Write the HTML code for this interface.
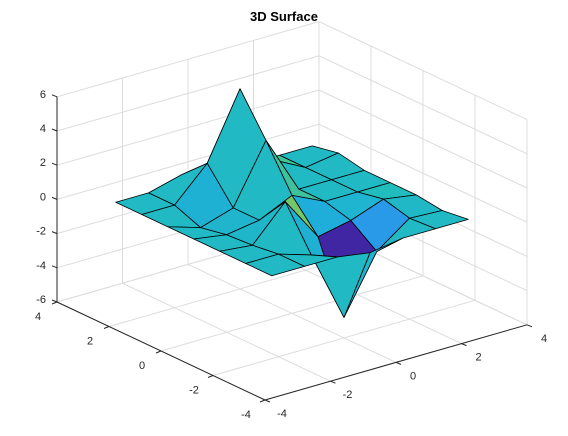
<!DOCTYPE html>
<html><head><meta charset="utf-8"><style>
html,body{margin:0;padding:0;background:#fff;}
svg{display:block;font-family:"Liberation Sans",sans-serif;}
</style></head><body>
<svg id="chart" width="568" height="436" viewBox="0 0 568 436" xmlns="http://www.w3.org/2000/svg">
<rect width="568" height="436" fill="#fff"/>
<text x="284" y="21" text-anchor="middle" font-size="13" font-weight="bold" fill="#000">3D Surface</text>
<g id="grid"></g><g id="surf"></g><g id="axes"></g>
</svg>
<script>
const xGrid = [-3,-2,-1,0,1,2,3];
const yGrid = [-3,-2,-1,0,1,2,3];
// rows by y (-3..3), columns by x (-3..3)
const zRowYm3 = [0,0,0,-0.3,0,0,0];
const zRowYm2 = [0,0,-0.6,-4.8,-1.5,-0.1,-0.2];
const zRowYm1 = [0,-0.2,1.8,-0.8,-0.4,0.3,0];
const zRowY0  = [0,-0.3,0,0.9,0,0,0];
const zRowY1  = [0,-0.6,0,3.4,0,0,0];
const zRowY2  = [0,0,1.9,5.7,1.0,0,0.3];
const zRowY3  = [0,0,0.5,0,0,0,0];
const zRows = [zRowYm3,zRowYm2,zRowYm1,zRowY0,zRowY1,zRowY2,zRowY3];
const xTicks = [-4,-2,0,2,4];
const yTicks = [-4,-2,0,2,4];
const zTicks = [-6,-4,-2,0,2,4,6];
const xTickLabels = ["-4","-2","0","2","4"];
const yTickLabels = ["-4","-2","0","2","4"];
const zTickLabels = ["-6","-4","-2","0","2","4","6"];

const NS="http://www.w3.org/2000/svg";
function P(x,y,z){return [292+32.75*x-26*y, 210.8-9.4*x-12.25*y-17.1*z];}
function near(x,y,z){return (-0.609*x-0.793*y)/8*0.866 + z/12*0.5;}
const parula=[[0.25,0.15,0.64],[0.27,0.33,0.96],[0.20,0.52,0.96],[0.12,0.68,0.86],[0.13,0.75,0.72],[0.45,0.78,0.42],[0.90,0.72,0.24],[0.97,0.85,0.16],[0.98,0.98,0.05]];
function cmap(t){t=Math.max(0,Math.min(1,t));const f=t*8,i=Math.min(7,Math.floor(f)),r=f-i;const a=parula[i],b=parula[i+1];
return 'rgb('+[0,1,2].map(k=>Math.round(255*(a[k]+(b[k]-a[k])*r))).join(',')+')';}
function el(tag,attrs,parent){const e=document.createElementNS(NS,tag);for(const k in attrs)e.setAttribute(k,attrs[k]);parent.appendChild(e);return e;}
const G=document.getElementById('grid'),S=document.getElementById('surf'),A=document.getElementById('axes');
function line(p,q,parent,stroke,name){const l=el('line',{x1:p[0],y1:p[1],x2:q[0],y2:q[1],stroke:stroke,'stroke-width':1},parent);

return l;}
const gc='#dcdcdc';
xTicks.forEach(x=>line(P(x,-4,-6),P(x,4,-6),G,gc,'floor-gridline-x'));
yTicks.forEach(y=>line(P(-4,y,-6),P(4,y,-6),G,gc,'floor-gridline-y'));
xTicks.forEach(x=>line(P(x,4,-6),P(x,4,6),G,gc,'back-wall-gridline-x'));
zTicks.forEach(z=>line(P(-4,4,z),P(4,4,z),G,gc,'back-wall-gridline-z'));
yTicks.forEach(y=>line(P(4,y,-6),P(4,y,6),G,gc,'right-wall-gridline-y'));
zTicks.forEach(z=>line(P(4,-4,z),P(4,4,z),G,gc,'right-wall-gridline-z'));
let zmin=Infinity,zmax=-Infinity;zRows.forEach(r=>r.forEach(v=>{zmin=Math.min(zmin,v);zmax=Math.max(zmax,v);}));
const faces=[];
for(let j=0;j<yGrid.length-1;j++)for(let i=0;i<xGrid.length-1;i++){
 const c=[[i,j],[i+1,j],[i+1,j+1],[i,j+1]].map(([a,b])=>[xGrid[a],yGrid[b],zRows[b][a]]);
 const cx=c.reduce((s,p)=>s+p[0],0)/4,cy=c.reduce((s,p)=>s+p[1],0)/4,cz=c.reduce((s,p)=>s+p[2],0)/4;
 faces.push({c:c,d:near(cx,cy,cz),col:cmap((zRows[j][i]-zmin)/(zmax-zmin))});
}
faces.sort((a,b)=>a.d-b.d);
faces.forEach(f=>{const pts=f.c.map(p=>P(p[0],p[1],p[2]).join(',')).join(' ');
 const poly=el('polygon',{points:pts,fill:f.col,stroke:'#000','stroke-width':0.8,'stroke-linejoin':'round'},S);
 
 });
const ac='#262626';
line(P(-4,4,-6),P(-4,4,6),A,ac,'z-axis-line');
line(P(-4,4,-6),P(-4,-4,-6),A,ac,'y-axis-line');
line(P(-4,-4,-6),P(4,-4,-6),A,ac,'x-axis-line');
function txt(s,x,y,anchor,name){const t=el('text',{x:x,y:y,'text-anchor':anchor,'font-size':11,fill:ac},A);t.textContent=s;
 
 }
zTicks.forEach((z,k)=>{const p=P(-4,4,z);line(p,[p[0]-5,p[1]-2],A,ac,'z-tick');txt(zTickLabels[k],p[0]-11,p[1]+1,'end','z-tick-label');});
yTicks.forEach((y,k)=>{const p=P(-4,y,-6);line(p,[p[0]-5,p[1]+2],A,ac,'y-tick');txt(yTickLabels[k],p[0]-19,p[1]+18,'middle','y-tick-label');});
xTicks.forEach((x,k)=>{const p=P(x,-4,-6);line(p,[p[0]+5,p[1]+2],A,ac,'x-tick');txt(xTickLabels[k],p[0]+17,p[1]+17,'middle','x-tick-label');});
</script>
</body></html>
